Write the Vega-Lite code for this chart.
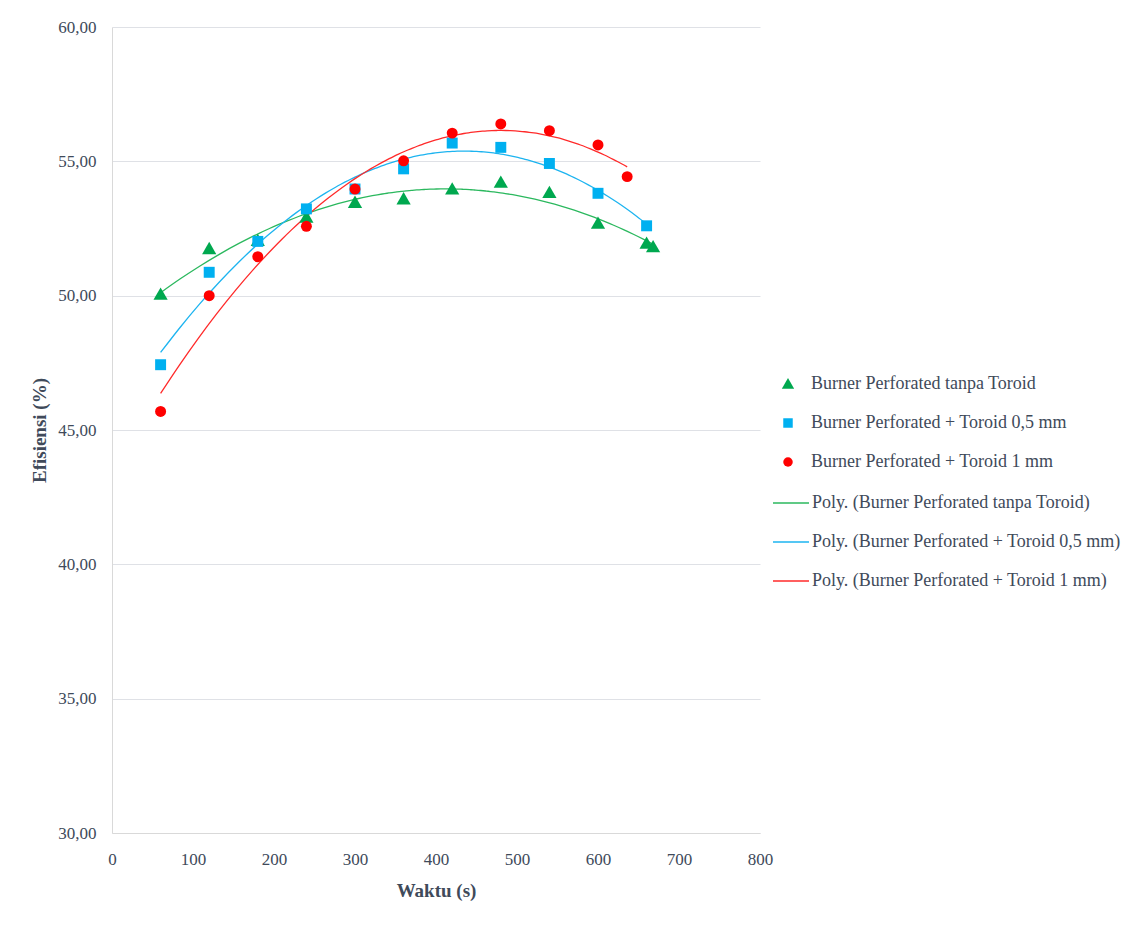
{
  "$schema": "https://vega.github.io/schema/vega-lite/v6.json",
  "width": 648,
  "height": 806,
  "autosize": "none",
  "padding": {"left": 112, "top": 27, "right": 374, "bottom": 109},
  "background": "white",
  "config": {
    "view": {"stroke": null},
    "font": "Liberation Serif",
    "axis": {
      "labelFont": "Liberation Serif",
      "titleFont": "Liberation Serif",
      "labelColor": "#404a5a",
      "titleColor": "#404a5a",
      "labelFontSize": 17,
      "titleFontSize": 19,
      "titleFontWeight": "bold",
      "domainColor": "#d9d9d9",
      "gridColor": "#dfe1e6",
      "ticks": false
    },
    "legend": {
      "labelFont": "Liberation Serif",
      "labelFontSize": 18,
      "labelColor": "#404a5a",
      "labelLimit": 400
    }
  },
  "data": {
    "values": [
      {"series": "Burner Perforated tanpa Toroid", "trend": "Poly. (Burner Perforated tanpa Toroid)", "x": 60, "y": 50.05},
      {"series": "Burner Perforated tanpa Toroid", "trend": "Poly. (Burner Perforated tanpa Toroid)", "x": 120, "y": 51.75},
      {"series": "Burner Perforated tanpa Toroid", "trend": "Poly. (Burner Perforated tanpa Toroid)", "x": 180, "y": 52.05},
      {"series": "Burner Perforated tanpa Toroid", "trend": "Poly. (Burner Perforated tanpa Toroid)", "x": 240, "y": 52.92},
      {"series": "Burner Perforated tanpa Toroid", "trend": "Poly. (Burner Perforated tanpa Toroid)", "x": 300, "y": 53.47},
      {"series": "Burner Perforated tanpa Toroid", "trend": "Poly. (Burner Perforated tanpa Toroid)", "x": 360, "y": 53.6},
      {"series": "Burner Perforated tanpa Toroid", "trend": "Poly. (Burner Perforated tanpa Toroid)", "x": 420, "y": 53.97},
      {"series": "Burner Perforated tanpa Toroid", "trend": "Poly. (Burner Perforated tanpa Toroid)", "x": 480, "y": 54.22},
      {"series": "Burner Perforated tanpa Toroid", "trend": "Poly. (Burner Perforated tanpa Toroid)", "x": 540, "y": 53.84},
      {"series": "Burner Perforated tanpa Toroid", "trend": "Poly. (Burner Perforated tanpa Toroid)", "x": 600, "y": 52.69},
      {"series": "Burner Perforated tanpa Toroid", "trend": "Poly. (Burner Perforated tanpa Toroid)", "x": 660, "y": 51.95},
      {"series": "Burner Perforated tanpa Toroid", "trend": "Poly. (Burner Perforated tanpa Toroid)", "x": 668, "y": 51.82},
      {"series": "Burner Perforated + Toroid 0,5 mm", "trend": "Poly. (Burner Perforated + Toroid 0,5 mm)", "x": 60, "y": 47.43},
      {"series": "Burner Perforated + Toroid 0,5 mm", "trend": "Poly. (Burner Perforated + Toroid 0,5 mm)", "x": 120, "y": 50.87},
      {"series": "Burner Perforated + Toroid 0,5 mm", "trend": "Poly. (Burner Perforated + Toroid 0,5 mm)", "x": 180, "y": 52.02},
      {"series": "Burner Perforated + Toroid 0,5 mm", "trend": "Poly. (Burner Perforated + Toroid 0,5 mm)", "x": 240, "y": 53.23},
      {"series": "Burner Perforated + Toroid 0,5 mm", "trend": "Poly. (Burner Perforated + Toroid 0,5 mm)", "x": 300, "y": 53.97},
      {"series": "Burner Perforated + Toroid 0,5 mm", "trend": "Poly. (Burner Perforated + Toroid 0,5 mm)", "x": 360, "y": 54.72},
      {"series": "Burner Perforated + Toroid 0,5 mm", "trend": "Poly. (Burner Perforated + Toroid 0,5 mm)", "x": 420, "y": 55.68},
      {"series": "Burner Perforated + Toroid 0,5 mm", "trend": "Poly. (Burner Perforated + Toroid 0,5 mm)", "x": 480, "y": 55.52},
      {"series": "Burner Perforated + Toroid 0,5 mm", "trend": "Poly. (Burner Perforated + Toroid 0,5 mm)", "x": 540, "y": 54.92},
      {"series": "Burner Perforated + Toroid 0,5 mm", "trend": "Poly. (Burner Perforated + Toroid 0,5 mm)", "x": 600, "y": 53.81},
      {"series": "Burner Perforated + Toroid 0,5 mm", "trend": "Poly. (Burner Perforated + Toroid 0,5 mm)", "x": 660, "y": 52.6},
      {"series": "Burner Perforated + Toroid 1 mm", "trend": "Poly. (Burner Perforated + Toroid 1 mm)", "x": 60, "y": 45.69},
      {"series": "Burner Perforated + Toroid 1 mm", "trend": "Poly. (Burner Perforated + Toroid 1 mm)", "x": 120, "y": 50.0},
      {"series": "Burner Perforated + Toroid 1 mm", "trend": "Poly. (Burner Perforated + Toroid 1 mm)", "x": 180, "y": 51.45},
      {"series": "Burner Perforated + Toroid 1 mm", "trend": "Poly. (Burner Perforated + Toroid 1 mm)", "x": 240, "y": 52.58},
      {"series": "Burner Perforated + Toroid 1 mm", "trend": "Poly. (Burner Perforated + Toroid 1 mm)", "x": 300, "y": 53.97},
      {"series": "Burner Perforated + Toroid 1 mm", "trend": "Poly. (Burner Perforated + Toroid 1 mm)", "x": 360, "y": 55.02},
      {"series": "Burner Perforated + Toroid 1 mm", "trend": "Poly. (Burner Perforated + Toroid 1 mm)", "x": 420, "y": 56.05},
      {"series": "Burner Perforated + Toroid 1 mm", "trend": "Poly. (Burner Perforated + Toroid 1 mm)", "x": 480, "y": 56.39},
      {"series": "Burner Perforated + Toroid 1 mm", "trend": "Poly. (Burner Perforated + Toroid 1 mm)", "x": 540, "y": 56.14},
      {"series": "Burner Perforated + Toroid 1 mm", "trend": "Poly. (Burner Perforated + Toroid 1 mm)", "x": 600, "y": 55.61},
      {"series": "Burner Perforated + Toroid 1 mm", "trend": "Poly. (Burner Perforated + Toroid 1 mm)", "x": 636, "y": 54.43}
    ]
  },
  "encoding": {
    "x": {
      "field": "x",
      "type": "quantitative",
      "scale": {"domain": [0, 800], "nice": false, "zero": false},
      "axis": {"values": [0, 100, 200, 300, 400, 500, 600, 700, 800], "grid": false, "title": "Waktu (s)", "labelPadding": 18, "titlePadding": 14, "labelFlush": false}
    },
    "y": {
      "field": "y",
      "type": "quantitative",
      "scale": {"domain": [30, 60], "nice": false, "zero": false},
      "axis": {"values": [30, 35, 40, 45, 50, 55, 60], "title": "Efisiensi  (%)", "labelPadding": 16, "titlePadding": 8, "labelExpr": "replace(format(datum.value, '.2f'), '.', ',')"}
    }
  },
  "layer": [
    {
      "transform": [{"regression": "y", "on": "x", "groupby": ["trend"], "method": "poly", "order": 2}],
      "mark": {"type": "line", "strokeWidth": 1.3, "interpolate": "monotone"},
      "encoding": {
        "color": {
          "field": "trend",
          "type": "nominal",
          "scale": {
            "domain": ["Poly. (Burner Perforated tanpa Toroid)", "Poly. (Burner Perforated + Toroid 0,5 mm)", "Poly. (Burner Perforated + Toroid 1 mm)"],
            "range": ["#2bb85e", "#1db4f0", "#ff2a2a"]
          },
          "legend": {"title": null, "orient": "none", "legendX": 660, "legendY": 457, "symbolType": "stroke", "symbolSize": 1296, "symbolStrokeWidth": 1.5, "rowPadding": 11, "labelOffset": 2, "symbolOffset": 0}
        }
      }
    },
    {
      "mark": {"type": "point", "filled": true, "opacity": 1, "size": 120},
      "encoding": {
        "shape": {
          "field": "series",
          "type": "nominal",
          "scale": {
            "domain": ["Burner Perforated tanpa Toroid", "Burner Perforated + Toroid 0,5 mm", "Burner Perforated + Toroid 1 mm"],
            "range": ["M0,-1.25L1.3,1L-1.3,1Z", "square", "circle"]
          },
          "legend": {"title": null, "orient": "none", "legendX": 660, "legendY": 348, "rowPadding": 21, "labelOffset": 14, "symbolSize": 90, "symbolOffset": 7}
        },
        "color": {
          "field": "series",
          "type": "nominal",
          "scale": {
            "domain": ["Burner Perforated tanpa Toroid", "Burner Perforated + Toroid 0,5 mm", "Burner Perforated + Toroid 1 mm"],
            "range": ["#00a84f", "#00b0f0", "#ff0000"]
          },
          "legend": {"title": null, "orient": "none", "legendX": 660, "legendY": 348, "rowPadding": 21, "labelOffset": 14, "symbolSize": 90, "symbolOffset": 7}
        }
      }
    }
  ],
  "resolve": {"scale": {"color": "independent", "shape": "independent"}}
}
